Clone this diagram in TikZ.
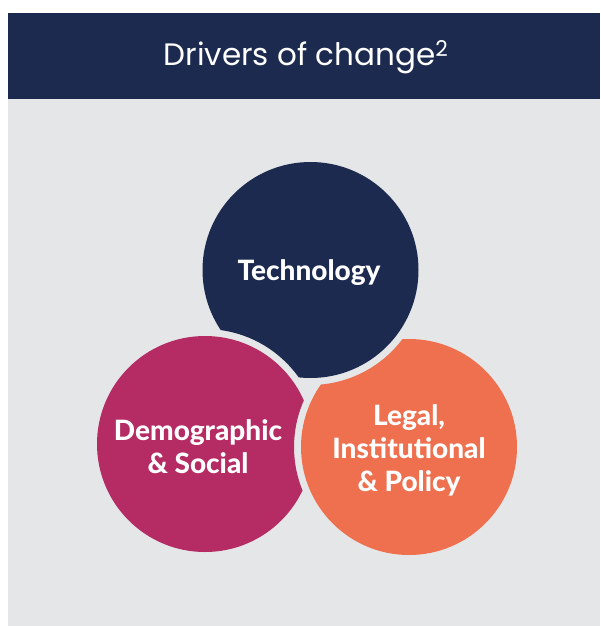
\documentclass[tikz,border=0pt]{standalone}
\usepackage{fontspec}
\setmainfont{Lato}
\newfontfamily\titlefont{Poppins}
\newfontfamily\bubblefont{Lato Heavy}
\usepackage{tikz}

\definecolor{bandnavy}{RGB}{29,42,79}
\definecolor{panelgray}{RGB}{229,230,232}
\definecolor{magentapink}{RGB}{181,43,100}
\definecolor{coralorange}{RGB}{238,112,79}

\begin{document}
\begin{tikzpicture}[
  x=1pt, y=-1pt,
  title text/.style={text=white, font=\titlefont\fontsize{31}{36}\selectfont},
  bubble text/.style={
    text=white, align=center,
    font=\bubblefont\fontsize{28}{33}\selectfont,
  }]
  \useasboundingbox (0,0) rectangle (600,626);
  \fill[bandnavy] (8,13) rectangle (600,99);
  \fill[panelgray] (8,99) rectangle (600,626);
  \node[title text] (title) at (306,57) {Drivers of change\textsuperscript{2}};
  % the three circles, each one bitten by the next
  \coordinate (T) at (310.5,270);
  \coordinate (D) at (205,444);
  \coordinate (L) at (409,447);
  \begin{scope}
    \clip (T) circle (108pt);
    \fill[bandnavy, even odd rule] (0,0) rectangle (600,626) (D) circle (115pt);
  \end{scope}
  \begin{scope}
    \clip (L) circle (108pt);
    \fill[coralorange, even odd rule] (0,0) rectangle (600,626) (T) circle (115pt);
  \end{scope}
  \begin{scope}
    \clip (D) circle (108pt);
    \fill[magentapink, even odd rule] (0,0) rectangle (600,626) (L) circle (115pt);
  \end{scope}
  \node[bubble text] (tech) at (309,273) {Technology};
  \node[bubble text] (demo) at (198,447) {Demographic\\\& Social};
  \node[bubble text] (legal) at (409,450) {Legal,\\Institutional\\\& Policy};
\end{tikzpicture}
\end{document}
